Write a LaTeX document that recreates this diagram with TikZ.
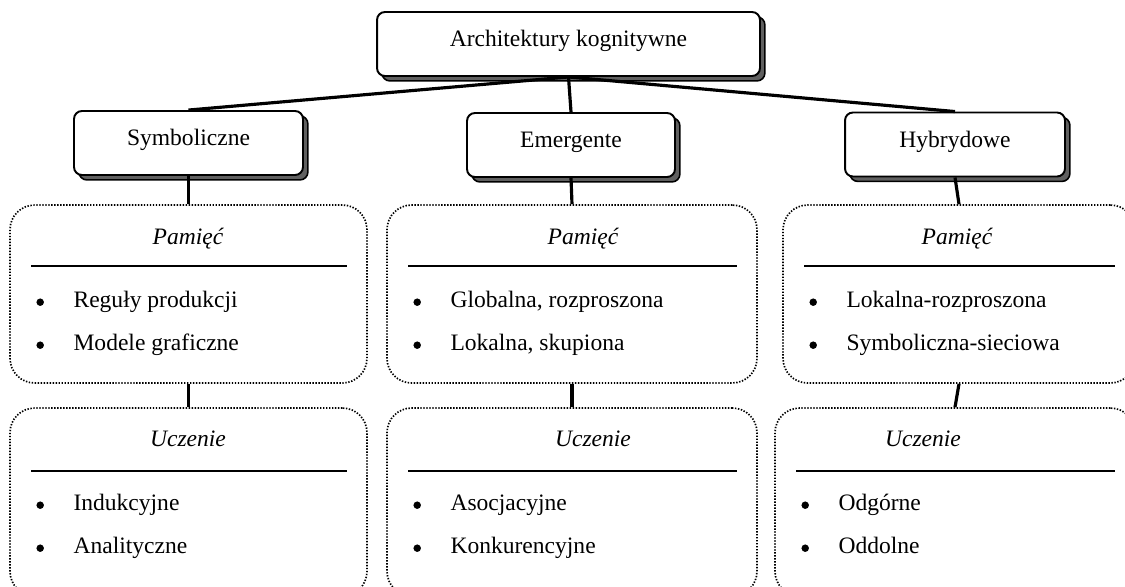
\documentclass[tikz,border=0pt]{standalone}
\usepackage{fontspec}
\setmainfont{Liberation Serif}
\usetikzlibrary{calc,positioning,shadows}
\definecolor{shadowgray}{RGB}{96,96,96}
\newcommand\bodyfont{\fontsize{13.4}{16}\selectfont}
\tikzset{
  title box/.style={draw,rectangle,rounded corners=4.5pt,line width=1.1pt,fill=white,
    minimum height=1.28cm,text height=.75em,text depth=.42em,
    general shadow={shadow xshift=2.8pt,shadow yshift=-2.8pt,fill=shadowgray,draw=black,line width=.9pt}},
  group box/.style={draw,rectangle,rounded corners=14pt,line width=.95pt,
    dash pattern=on .8pt off .9pt},
  heading/.style={anchor=base,inner sep=0pt,font=\bodyfont\itshape},
  item/.style={anchor=base west,inner sep=0pt},
  dot/.style={circle,fill=black,inner sep=0pt,minimum size=0.15cm},
  link/.style={line width=1.8pt},
  rule/.style={line width=1.1pt}
}

\begin{document}
\begin{tikzpicture}[x=0.02cm,y=-0.02cm,font=\bodyfont]
  \useasboundingbox (0,0) rectangle (1125,586);
  \clip (0,0) rectangle (1125,586);

  % top row
  \node [title box, minimum width=7.66cm] at(568.5,44) (arch) {Architektury kognitywne};
  \node [title box, minimum width=4.58cm] at(188.5,143) (sym) {Symboliczne};
  \node [title box, minimum width=4.16cm] at(571,145) (eme) {Emergente};
  \node [title box, minimum width=4.40cm] at(955,144.5) (hyb) {Hybrydowe};

  \foreach \c in {sym,eme,hyb}
    \draw[link] (arch.south) -- (\c.north);

  % memory and learning boxes
  \foreach \n/\top/\x/\w/\xu/\wu/\hp/\hu in {1/sym/188.5/7.14/188.5/7.14/188/188,
                                            2/eme/572/7.4/572/7.4/583/593,
                                            3/hyb/959/7.04/955/7.2/957/923}
  {
    \node [group box, minimum width=\w cm, minimum height=3.56cm] at(\x,294) (pam_\n) {};
    \node [group box, minimum width=\wu cm, minimum height=3.76cm] at(\xu,502) (ucz_\n) {};

    \draw[link] (\top.south) -- (pam_\n.north);
    \draw[link] (pam_\n.south) -- (ucz_\n.north);

    \node [heading] at($(pam_\n.north)+(\hp-\x,40)$) (pam_head_\n) {Pamięć};
    \node [heading] at($(ucz_\n.north)+(\hu-\xu,39)$) (ucz_head_\n) {Uczenie};

    \draw[rule] ($(pam_\n.north west)+(22,62)$) -- ($(pam_\n.north east)+(-21,62)$);
    \draw[rule] ($(ucz_\n.north west)+(22,64)$) -- ($(ucz_\n.north east)+(-21,64)$);
  }

  % bullet lists
  \foreach \g/\a/\b in {pam_1/Reguły produkcji/Modele graficzne,
                        pam_2/{Globalna, rozproszona}/{Lokalna, skupiona},
                        pam_3/Lokalna-rozproszona/Symboliczna-sieciowa,
                        ucz_1/Indukcyjne/Analityczne,
                        ucz_2/Asocjacyjne/Konkurencyjne,
                        ucz_3/Odgórne/Oddolne}
  {
    \node [dot] at($(\g.north west)+(31,98)$) (\g_dot_a) {};
    \node [item] at($(\g.north west)+(64,103)$) (\g_item_a) {\a};
    \node [dot] at($(\g.north west)+(31,141)$) (\g_dot_b) {};
    \node [item] at($(\g.north west)+(64,146)$) (\g_item_b) {\b};
  }
\end{tikzpicture}
\end{document}
